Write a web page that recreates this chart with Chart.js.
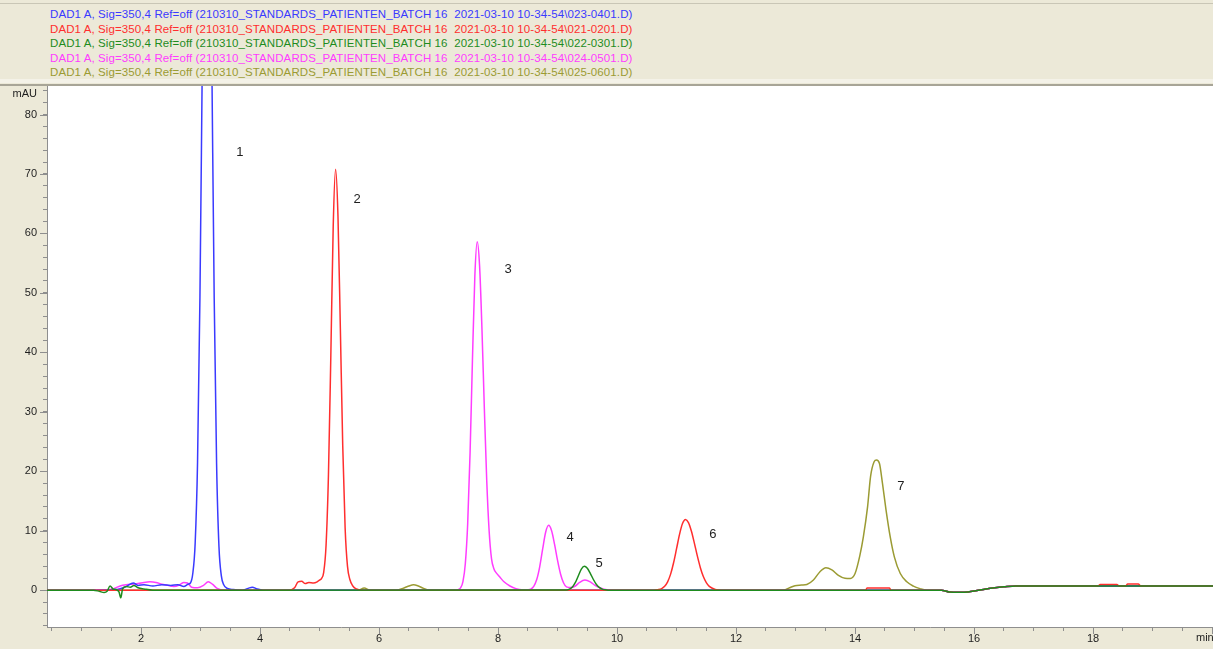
<!DOCTYPE html>
<html>
<head>
<meta charset="utf-8">
<script src="https://cdn.jsdelivr.net/npm/chart.js@4.4.1/dist/chart.umd.min.js"></script>
<style>
html,body{margin:0;padding:0;background:#ECE9D8;overflow:hidden;width:1213px;height:649px;}
#hdr{position:absolute;left:0;top:0;width:1213px;height:86px;background:#ECE9D8;z-index:2;}
#hdr .top{position:absolute;left:0;top:3px;width:1213px;height:1px;background:#c9c6b6;}
#hdr .sep1{position:absolute;left:0;top:79px;width:1213px;height:4px;background:#F4F2E8;}
#hdr .sep2{position:absolute;left:0;top:84px;width:1213px;height:2px;background:#A8A597;}
.l{position:absolute;left:50px;font-family:"Liberation Sans",Arial,sans-serif;font-size:11.5px;letter-spacing:0.1px;white-space:pre;line-height:14px;}
#c{position:absolute;left:0;top:0;z-index:1;}
</style>
</head>
<body>
<div id="hdr"><div class="top"></div><div class="sep1"></div><div class="sep2"></div></div>
<canvas id="c" width="1224" height="649" style="width:1224px;height:649px"></canvas>
<script>
// ---- data (retention time in min, absorbance in mAU) ----
const blueT = [0.42, 1.2, 1.6, 1.75, 1.87, 1.95, 2.05, 2.2, 2.35, 2.5, 2.62, 2.72, 2.79, 2.83, 2.87, 2.91, 2.95, 2.99, 3.03, 3.07, 3.11, 3.15, 3.19, 3.23, 3.27, 3.31, 3.35, 3.39, 3.45, 3.55, 3.7, 3.8, 3.87, 3.95, 4.05, 15.45, 15.58, 15.75, 15.9, 16.05, 16.2, 16.35, 16.5, 16.7, 20.2];
const blueV = [0, 0, 0.1, 0.6, 1.2, 0.8, 0.9, 0.7, 0.9, 0.8, 0.9, 0.6, 1.0, 1.2, 2.8, 7.9, 21.5, 49.2, 89, 127, 143, 127, 88.8, 49, 21.3, 7.3, 2.4, 0.9, 0.3, 0.1, 0, 0.3, 0.5, 0.2, 0, 0, -0.3, -0.35, -0.3, -0.05, 0.2, 0.4, 0.55, 0.7, 0.7];

const redT = [0.42, 4.5, 4.58, 4.64, 4.7, 4.76, 4.82, 4.9, 4.96, 5.0, 5.03, 5.07, 5.11, 5.15, 5.19, 5.23, 5.27, 5.31, 5.35, 5.39, 5.43, 5.47, 5.51, 5.56, 5.62, 5.7, 10.6, 10.65, 10.7, 10.75, 10.8, 10.85, 10.9, 10.95, 11.0, 11.05, 11.1, 11.15, 11.2, 11.25, 11.3, 11.35, 11.4, 11.45, 11.5, 11.55, 11.65, 11.75, 14.18, 14.2, 14.58, 14.6, 15.45, 15.58, 15.75, 15.9, 16.05, 16.2, 16.35, 16.5, 16.7, 18.08, 18.12, 18.4, 18.44, 18.55, 18.58, 18.76, 18.8, 20.2];
const redV = [0, 0, 0.4, 1.4, 1.5, 1.1, 1.3, 1.2, 1.4, 1.7, 1.9, 3.0, 7.6, 19.4, 39.5, 61.2, 70.8, 62.9, 44.0, 24.3, 10.5, 4.0, 1.8, 0.7, 0.2, 0, 0, 0.03, 0.1, 0.27, 0.65, 1.4, 2.69, 4.6, 6.97, 9.38, 11.2, 11.9, 11.37, 9.9, 7.87, 5.71, 3.78, 2.28, 1.25, 0.63, 0.12, 0, 0, 0.35, 0.35, 0, 0, -0.3, -0.35, -0.3, -0.05, 0.2, 0.4, 0.55, 0.7, 0.7, 0.95, 0.95, 0.7, 0.7, 1.05, 1.05, 0.7, 0.7];

const magentaT = [0.42, 1.4, 1.55, 1.65, 1.75, 1.85, 1.95, 2.05, 2.15, 2.25, 2.35, 2.45, 2.55, 2.65, 2.72, 2.78, 2.85, 2.95, 3.05, 3.13, 3.2, 3.28, 3.4, 7.2, 7.29, 7.33, 7.37, 7.41, 7.45, 7.49, 7.53, 7.57, 7.61, 7.65, 7.69, 7.73, 7.77, 7.81, 7.85, 7.89, 7.93, 7.97, 8.03, 8.1, 8.2, 8.3, 8.4, 8.5, 8.55, 8.6, 8.65, 8.7, 8.75, 8.8, 8.85, 8.9, 8.95, 9.0, 9.05, 9.1, 9.15, 9.22, 9.3, 9.37, 9.46, 9.55, 9.63, 9.72, 9.83, 9.95, 15.45, 15.58, 15.75, 15.9, 16.05, 16.2, 16.35, 16.5, 16.7, 20.2];
const magentaV = [0, 0, 0.3, 0.7, 0.9, 1.0, 1.1, 1.3, 1.4, 1.3, 1.0, 0.8, 0.6, 0.9, 1.3, 1.2, 0.5, 0.4, 0.8, 1.4, 1.0, 0.3, 0, 0, 0.02, 0.08, 0.37, 1.42, 4.43, 11.2, 23.1, 38.8, 52.8, 58.6, 54.5, 43.8, 30.5, 18.4, 10.0, 5.3, 3.6, 2.9, 2.2, 1.4, 0.7, 0.25, 0.05, 0.08, 0.18, 0.64, 1.78, 3.93, 6.93, 9.73, 10.9, 9.99, 7.70, 4.99, 2.72, 1.24, 0.55, 0.45, 0.7, 1.3, 1.7, 1.4, 0.8, 0.35, 0.05, 0, 0, -0.3, -0.35, -0.3, -0.05, 0.2, 0.4, 0.55, 0.7, 0.7];

const greenT = [0.42, 1.2, 1.3, 1.38, 1.43, 1.48, 1.53, 1.58, 1.63, 1.66, 1.69, 1.75, 1.82, 1.88, 1.95, 2.05, 2.2, 9.15, 9.2, 9.25, 9.3, 9.35, 9.4, 9.45, 9.5, 9.55, 9.6, 9.65, 9.7, 9.75, 9.8, 9.85, 15.45, 15.58, 15.75, 15.9, 16.05, 16.2, 16.35, 16.5, 16.7, 20.2];
const greenV = [0, 0, -0.2, -0.4, -0.2, 0.7, 0.2, 0.1, -0.3, -1.3, 0.2, 0.6, 0.5, 0.8, 0.4, 0.2, 0, 0.04, 0.18, 0.54, 1.30, 2.43, 3.53, 4.0, 3.67, 2.83, 1.83, 1.0, 0.46, 0.18, 0.05, 0, 0, -0.3, -0.35, -0.3, -0.05, 0.2, 0.4, 0.55, 0.7, 0.7];

const oliveT = [0.42, 5.65, 5.75, 5.85, 6.3, 6.4, 6.5, 6.58, 6.66, 6.75, 6.85, 12.8, 12.9, 12.99, 13.1, 13.19, 13.3, 13.41, 13.51, 13.61, 13.72, 13.83, 13.92, 14.0, 14.08, 14.14, 14.21, 14.26, 14.32, 14.36, 14.41, 14.46, 14.52, 14.59, 14.66, 14.76, 14.87, 14.98, 15.09, 15.2, 15.45, 15.58, 15.75, 15.9, 16.05, 16.2, 16.35, 16.5, 16.7, 20.2];
const oliveV = [0, 0, 0.35, 0, 0, 0.3, 0.7, 0.9, 0.7, 0.3, 0, 0, 0.4, 0.75, 0.85, 0.95, 1.7, 3.1, 3.75, 3.4, 2.5, 2.0, 1.97, 2.8, 5.8, 9.0, 14.0, 19.1, 21.6, 21.9, 21.3, 18.0, 13.5, 9.0, 5.6, 2.8, 1.4, 0.67, 0.25, 0, 0, -0.3, -0.35, -0.3, -0.05, 0.2, 0.4, 0.55, 0.7, 0.7];

const fileNames = ['023-0401.D', '021-0201.D', '022-0301.D', '024-0501.D', '025-0601.D'];
const peakLabelText = ['1', '2', '3', '4', '5', '6', '7'];
const peakLabelT = [3.66, 5.63, 8.17, 9.21, 9.70, 11.61, 14.77];
const peakLabelV = [73.6, 65.8, 53.9, 8.8, 4.5, 9.3, 17.5];
const yTickLabelStep = 10;
const xTickLabelStep = 2;
const xUnit = 'min';
const yUnit = 'mAU';

// ---- styles ----
const colors = ['#3a3aff', '#ff2e2e', '#1e8c1e', '#ff3cff', '#9b9b33'];
const FONT = '"Liberation Sans", Arial, sans-serif';
const AXIS = '#8e8e8e';

// header
const hdr = document.getElementById('hdr');
fileNames.forEach((f, i) => {
  const d = document.createElement('div');
  d.className = 'l';
  d.style.top = (7 + i * 14.5) + 'px';
  d.style.color = colors[i];
  d.textContent = 'DAD1 A, Sig=350,4 Ref=off (210310_STANDARDS_PATIENTEN_BATCH 16  2021-03-10 10-34-54\\' + f + ')';
  hdr.appendChild(d);
});

const pts = (t, v) => t.map((x, i) => ({x: x, y: v[i]}));
const series = [
  {t: greenT, v: greenV, c: colors[2]},
  {t: redT, v: redV, c: colors[1]},
  {t: blueT, v: blueV, c: colors[0]},
  {t: magentaT, v: magentaV, c: colors[3]},
  {t: oliveT, v: oliveV, c: colors[4]}
];

const deco = {
  id: 'deco',
  beforeDraw(chart) {
    const {ctx, chartArea: a} = chart;
    ctx.save();
    ctx.fillStyle = '#ffffff';
    ctx.fillRect(a.left, a.top, a.right - a.left, a.bottom - a.top);
    ctx.restore();
  },
  afterDraw(chart) {
    const {ctx, chartArea: a, scales} = chart;
    ctx.save();
    ctx.strokeStyle = AXIS;
    ctx.lineWidth = 1;
    scales.y.ticks.forEach(tk => {
      if (tk.value % yTickLabelStep === 0) {
        const y = Math.round(scales.y.getPixelForValue(tk.value)) + 0.5;
        ctx.beginPath(); ctx.moveTo(a.left - 7, y); ctx.lineTo(a.left, y); ctx.stroke();
      }
    });
    scales.x.ticks.forEach(tk => {
      if (tk.value % xTickLabelStep === 0) {
        const x = Math.round(scales.x.getPixelForValue(tk.value)) + 0.5;
        ctx.beginPath(); ctx.moveTo(x, a.bottom); ctx.lineTo(x, a.bottom + 7); ctx.stroke();
      }
    });
    ctx.fillStyle = '#1e1e1e';
    ctx.font = '11px ' + FONT;
    ctx.textAlign = 'right';
    ctx.textBaseline = 'middle';
    ctx.fillText(yUnit, a.left - 10, a.top + 8);
    // x unit, right-aligned at the visible window edge
    ctx.textAlign = 'left';
    ctx.fillText(xUnit, 1196, a.bottom + 11);
    ctx.font = '13px ' + FONT;
    ctx.textAlign = 'center';
    peakLabelText.forEach((s, i) => {
      ctx.fillText(s, scales.x.getPixelForValue(peakLabelT[i]), scales.y.getPixelForValue(peakLabelV[i]));
    });
    ctx.restore();
  }
};

new Chart(document.getElementById('c'), {
  type: 'line',
  data: {
    datasets: series.map(s => ({
      data: pts(s.t, s.v),
      borderColor: s.c,
      backgroundColor: s.c,
      borderWidth: 1.5,
      pointRadius: 0,
      cubicInterpolationMode: 'monotone',
      fill: false
    }))
  },
  options: {
    responsive: false,
    animation: false,
    events: [],
    layout: {padding: {top: 86, left: 0, right: 0, bottom: 0}},
    plugins: {legend: {display: false}, tooltip: {enabled: false}},
    scales: {
      x: {
        type: 'linear', min: 0.42, max: 20.2,
        afterFit: s => { s.height = 22; },
        border: {color: AXIS, width: 1},
        grid: {drawOnChartArea: false, color: AXIS, tickLength: 4},
        ticks: {
          stepSize: 0.5, includeBounds: false, autoSkip: false, maxRotation: 0, padding: 1,
          color: '#1e1e1e', font: {family: FONT, size: 11},
          callback: v => (v < 19.9 && v % xTickLabelStep === 0 ? String(v) : '')
        }
      },
      y: {
        type: 'linear', min: -6.2, max: 84.8,
        afterFit: s => { s.width = 47; },
        border: {color: AXIS, width: 1},
        grid: {drawOnChartArea: false, color: AXIS, tickLength: 4},
        ticks: {
          stepSize: 2, includeBounds: false, autoSkip: false, padding: 6,
          color: '#1e1e1e', font: {family: FONT, size: 11},
          callback: v => (v % yTickLabelStep === 0 ? String(v) : '')
        }
      }
    }
  },
  plugins: [deco]
});
</script>
</body>
</html>
